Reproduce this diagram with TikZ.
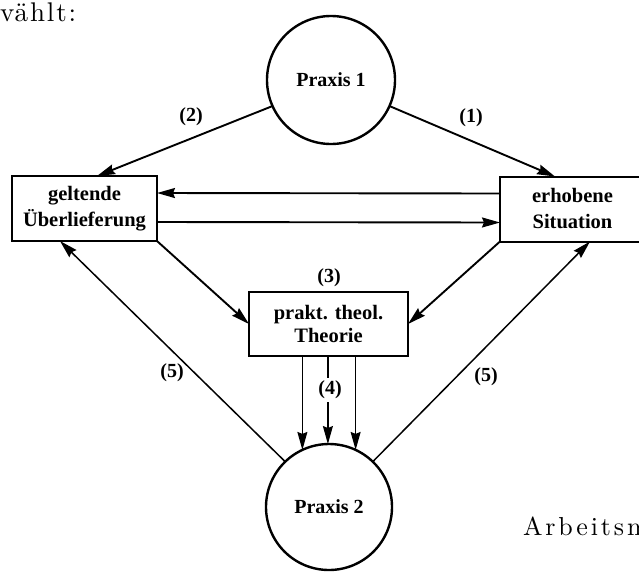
\documentclass[tikz,border=0pt]{standalone}
\usepackage{fontspec}
\setmainfont{Liberation Serif}
\newfontfamily\lmr{lmroman10-regular.otf}
\usetikzlibrary{arrows.meta}

\begin{document}
\begin{tikzpicture}[x=1pt,y=-1pt,
  every node/.style={inner sep=0pt, outer sep=0pt},
  box/.style={draw, line width=2pt, minimum width=145pt, minimum height=65pt,
    align=center, font=\fontsize{20.5}{26}\selectfont\bfseries},
  praxis/.style={draw, circle, line width=2.4pt, minimum size=128pt,
    font=\fontsize{20}{24}\selectfont\bfseries},
  lbl/.style={font=\fontsize{20}{24}\selectfont\bfseries},
  tip/.style={-{Stealth[length=18pt,width=10pt,inset=2pt]}},
  arr/.style={tip, line width=1.9pt},
  side arr/.style={tip, line width=1.5pt},
  down arr/.style={tip, line width=1.2pt},
]
\useasboundingbox (0,0) rectangle (639,571);
\clip (0,0) rectangle (639,571);

% circles and boxes
\node[praxis] (p1) at (331,80) {Praxis 1};
\node[praxis, minimum size=126pt] (p2) at (329,507) {Praxis 2};
\node[box] (gelt) at (84.5,208.5) {geltende\\Überlieferung};
\node[box] (erh) at (572.5,209) {erhobene\\Situation};
\node[box, minimum width=159pt, minimum height=64pt] (theo) at (328.5,324)
  {prakt. theol.\\[-3pt]Theorie};

% arrows from Praxis 1
\draw[arr] (p1.204) -- ([xshift=12.5pt]gelt.north);
\draw[arr] (p1.336) -- ([xshift=-17.5pt]erh.north);

% exchange between the two boxes
\draw[arr] ([yshift=15.5pt]erh.west) -- ([yshift=15.5pt]gelt.east);
\draw[arr] ([yshift=-13.5pt]gelt.east) -- ([yshift=-13.5pt]erh.west);

% into the theory box
\draw[arr] (gelt.south east) -- (theo.west);
\draw[arr] (erh.south west) -- (theo.east);

% from Praxis 2 back to the boxes
\draw[side arr] (p2.134) -- ([xshift=-24.5pt]gelt.south);
\draw[side arr] (p2.46) -- ([xshift=17.5pt]erh.south);

% theory down to Praxis 2
\foreach \a in {115,91,65}
  \draw[down arr] (theo.south -| p2.\a) -- (p2.\a);

% step labels
\node[lbl] (l1) at (471,118) {(1)};
\node[lbl] (l2) at (191,117) {(2)};
\node[lbl] (l3) at (329,278) {(3)};
\node[lbl, fill=white, inner ysep=3pt, inner xsep=1pt] (l4) at (330,390) {(4)};
\node[lbl] (l5a) at (172,373) {(5)};
\node[lbl] (l5b) at (486,377) {(5)};

% surrounding running text
\node[anchor=base west, font={\lmr\addfontfeature{LetterSpace=7}\fontsize{27}{30}\selectfont}]
  (txttop) at (0,21) {vählt:};
\node[anchor=base west, font={\lmr\addfontfeature{LetterSpace=11}\fontsize{26}{30}\selectfont}]
  (txtbot) at (523,535) {Arbeitsm};
\end{tikzpicture}
\end{document}
